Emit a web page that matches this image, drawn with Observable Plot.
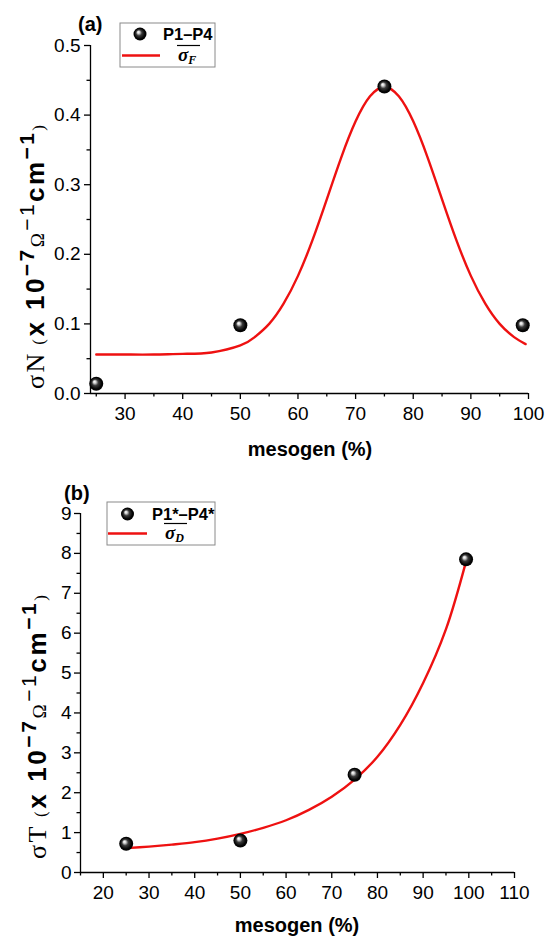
<!DOCTYPE html>
<html><head><meta charset="utf-8">
<script src="https://cdn.jsdelivr.net/npm/d3@7"></script>
<script src="https://cdn.jsdelivr.net/npm/@observablehq/plot@0.6"></script>
<style>
body{margin:0;background:#fff;width:545px;height:940px;overflow:hidden;font-family:"Liberation Sans",Arial,sans-serif}
#a,#b{position:absolute;left:0}
#a{top:0}#b{top:470px}
</style></head><body>
<svg width="0" height="0" style="position:absolute"><defs>
<radialGradient id="ball" cx="0.5" cy="0.5" r="0.5" fx="0.36" fy="0.34">
<stop offset="0" stop-color="#ffffff"/><stop offset="0.18" stop-color="#d8d8d8"/><stop offset="0.45" stop-color="#3a3a3a"/><stop offset="0.8" stop-color="#050505"/><stop offset="1" stop-color="#000"/>
</radialGradient></defs></svg>
<div id="a"></div><div id="b"></div>
<script>
// ---- Panel (a) data ----
const mesogenA = [25, 50, 75, 99];
const sigmaN = [0.014, 0.098, 0.441, 0.098];
const fitXA = [25, 30, 35, 40, 45, 50, 52.5, 55, 57.5, 60, 62.5, 65, 67.5, 70, 72.5, 75, 77.5, 80, 82.5, 85, 87.5, 90, 92.5, 95, 97.5, 99.5];
const fitYA = [0.056, 0.056, 0.056, 0.057, 0.059, 0.069, 0.081, 0.100, 0.129, 0.169, 0.220, 0.279, 0.339, 0.391, 0.427, 0.440, 0.427, 0.391, 0.339, 0.279, 0.220, 0.169, 0.129, 0.100, 0.081, 0.071];
const xTicksA = [30, 40, 50, 60, 70, 80, 90, 100];
const xMinorA = [25, 35, 45, 55, 65, 75, 85, 95];
const yTicksA = [0, 0.1, 0.2, 0.3, 0.4, 0.5];
const yMinorA = [0.05, 0.15, 0.25, 0.35, 0.45];

// ---- Panel (b) data ----
const mesogenB = [25, 50, 75, 99.4];
const sigmaT = [0.72, 0.80, 2.45, 7.85];
const fitXB = [25, 30, 35, 40, 45, 50, 55, 60, 65, 70, 75, 80, 85, 90, 95, 99.4];
const fitYB = [0.61, 0.65, 0.70, 0.76, 0.85, 0.97, 1.12, 1.31, 1.57, 1.90, 2.33, 2.90, 3.70, 4.75, 6.10, 7.80];
const xTicksB = [20, 30, 40, 50, 60, 70, 80, 90, 100, 110];
const xMinorB = [15, 25, 35, 45, 55, 65, 75, 85, 95, 105];
const yTicksB = [0, 1, 2, 3, 4, 5, 6, 7, 8, 9];
const yMinorB = [0.5, 1.5, 2.5, 3.5, 4.5, 5.5, 6.5, 7.5, 8.5];

const SANS = '"Liberation Sans", Arial, sans-serif';
const SERIF = '"Liberation Serif", "Times New Roman", serif';

const ptsA = mesogenA.map((x, i) => ({x, y: sigmaN[i]}));
const fitA = fitXA.map((x, i) => ({x, y: fitYA[i]}));
const ptsB = mesogenB.map((x, i) => ({x, y: sigmaT[i]}));
const fitB = fitXB.map((x, i) => ({x, y: fitYB[i]}));

function panel(o) {
  return Plot.plot({
    width: 545, height: 470,
    marginLeft: o.ml, marginRight: o.mr, marginTop: o.mt, marginBottom: o.mb,
    x: {domain: o.xd},
    y: {domain: o.yd},
    style: {fontFamily: SANS, fontSize: "19px", color: "black", background: "white", overflow: "visible"},
    marks: [
      Plot.axisY(o.yt, {tickSize: 6, tickPadding: o.ytp, tickFormat: o.yf, label: null, strokeWidth: 1.3}),
      Plot.axisY(o.ym, {tickSize: 3.5, text: null, label: null, strokeWidth: 1.3}),
      Plot.axisX(o.xt, {tickSize: 6, tickPadding: 7, label: null, strokeWidth: 1.3}),
      Plot.axisX(o.xm, {tickSize: 3.5, text: null, label: null, strokeWidth: 1.3}),
      Plot.ruleX([o.xd[0]], {stroke: "black", strokeWidth: 1.3}),
      Plot.ruleY([o.yd[0]], {stroke: "black", strokeWidth: 1.3}),
      Plot.line(o.fit, {x: "x", y: "y", stroke: "#ee1111", strokeWidth: 2.4, curve: o.curve}),
      Plot.dot(o.pts, {x: "x", y: "y", r: 7, fill: "url(#ball)", stroke: "none"})
    ]
  });
}

const A = panel({ml: 90, mr: 17, mt: 45, mb: 77, xd: [24, 100], yd: [0, 0.5], yt: yTicksA, ym: yMinorA, xt: xTicksA, xm: xMinorA, ytp: 4, yf: d3.format(".1f"), fit: fitA, pts: ptsA, curve: "natural"});
const B = panel({ml: 80, mr: 31, mt: 43, mb: 68, xd: [15, 110], yd: [0, 9], yt: yTicksB, ym: yMinorB, xt: xTicksB, xm: xMinorB, ytp: 3, yf: d3.format("d"), fit: fitB, pts: ptsB, curve: "catmull-rom"});
document.getElementById("a").appendChild(A);
document.getElementById("b").appendChild(B);

function decorate(svgEl, cfg) {
  const svg = d3.select(svgEl);
  // panel tag
  svg.append("text").attr("x", cfg.tag[0]).attr("y", cfg.tag[1]).attr("text-anchor", "start").attr("font-family", SANS)
    .attr("font-weight", "bold").attr("font-size", 20).attr("fill", "black").text(cfg.tagText);
  // x label
  svg.append("text").attr("x", cfg.xl[0]).attr("y", cfg.xl[1]).attr("text-anchor", "middle")
    .attr("font-family", SANS).attr("font-weight", "bold").attr("font-size", 20).attr("fill", "black").text("mesogen (%)");
  // y label
  const t = svg.append("text").attr("transform", `translate(${cfg.yl[0]},${cfg.yl[1]}) rotate(-90)`)
    .attr("text-anchor", "middle").attr("fill", "black").attr("textLength", cfg.ylen).attr("lengthAdjust", "spacing");
  const parts = [
    [cfg.sym, SERIF, "normal", 26, 0],
    [" (", SERIF, "normal", 17, 0],
    ["x 10", SANS, "bold", 26, 0],
    ["\u22127", SANS, "bold", 21, -10],
    ["\u03A9", SERIF, "normal", 19, 10],
    ["\u22121", SANS, "normal", 21, -10],
    ["cm", SANS, "bold", 26, 10],
    ["\u22121", SANS, "bold", 21, -10],
    [")", SERIF, "normal", 17, 10]
  ];
  for (const [s, f, w, z, dy] of parts) {
    t.append("tspan").attr("font-family", f).attr("font-weight", w).attr("font-size", z).attr("dy", dy).text(s);
  }
  // legend
  const L = cfg.leg;
  svg.append("rect").attr("x", L.x).attr("y", L.y).attr("width", L.w).attr("height", L.h)
    .attr("fill", "white").attr("stroke", "#8a8a8a").attr("stroke-width", 1);
  svg.append("circle").attr("cx", L.bx).attr("cy", L.by).attr("r", 6.5).attr("fill", "url(#ball)");
  svg.append("text").attr("x", L.tx).attr("y", L.by + 6).attr("text-anchor", "start").attr("font-family", SANS).attr("font-weight", "bold")
    .attr("font-size", 16.5).attr("fill", "black").text(L.label);
  svg.append("line").attr("x1", L.lx1).attr("x2", L.lx2).attr("y1", L.ly).attr("y2", L.ly)
    .attr("stroke", "#ee1111").attr("stroke-width", 2.5);
  const s = svg.append("text").attr("x", L.sx).attr("y", L.ly + 5).attr("text-anchor", "start").attr("font-family", SERIF)
    .attr("font-weight", "bold").attr("font-style", "italic").attr("fill", "black");
  s.append("tspan").attr("font-size", 19).text("\u03C3");
  s.append("tspan").attr("font-size", 12).attr("dy", 3).text(L.sub);
  svg.append("line").attr("x1", L.sx - 1).attr("x2", L.sx + 22).attr("y1", L.ly - 10).attr("y2", L.ly - 10)
    .attr("stroke", "black").attr("stroke-width", 1.2);
}

decorate(A, {tag: [78, 31], tagText: "(a)", xl: [310, 456], yl: [44, 257], ylen: 264, sym: "\u03C3N",
  leg: {x: 120, y: 23, w: 95, h: 44, bx: 140, by: 34, tx: 163, label: "P1\u2013P4", lx1: 122, lx2: 160, ly: 55.5, sx: 178, sub: "F"}});
decorate(B, {tag: [64, 30], tagText: "(b)", xl: [297, 462], yl: [46, 257], ylen: 264, sym: "\u03C3T",
  leg: {x: 107, y: 32, w: 108, h: 43, bx: 127.5, by: 44, tx: 152, label: "P1*\u2013P4*", lx1: 108, lx2: 147, ly: 63.5, sx: 165, sub: "D"}});
</script>
</body></html>
